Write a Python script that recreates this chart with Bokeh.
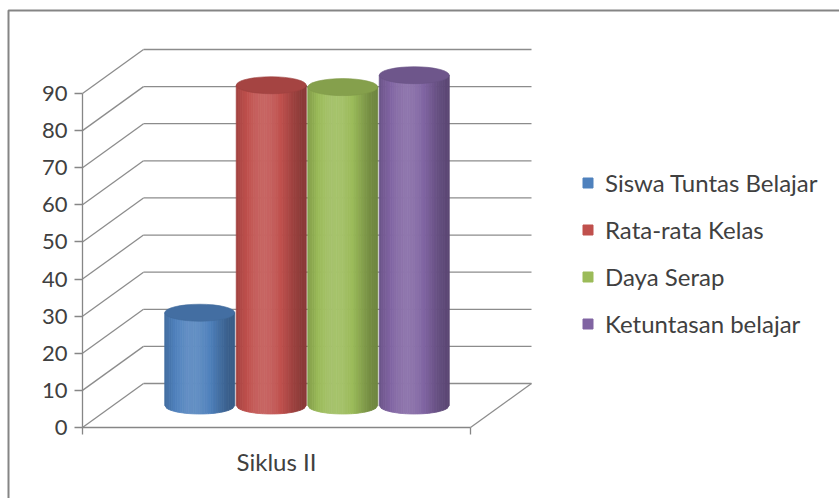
import numpy as np
from bokeh.plotting import figure
from bokeh.models import (LinearAxis, FixedTicker, Range1d, Legend, LegendItem,
                          ColumnDataSource)
from bokeh.embed import file_html
from bokeh.resources import INLINE

# ---------------- data ----------------
category = "Siklus II"
series = ["Siswa Tuntas Belajar", "Rata-rata Kelas", "Daya Serap", "Ketuntasan belajar"]
values = [25.0, 86.3, 85.8, 89.0]
colors = ["#4F81BD", "#C0504D", "#9BBB59", "#8064A2"]
y_ticks = [0, 10, 20, 30, 40, 50, 60, 70, 80, 90]

# ---------------- geometry (screen layout) ----------------
W, H = 839, 498
AX_X, CAT_END_X = 82, 470          # pixel x of value axis and end of category
Y0_PX, Y90_PX = 427, 93            # pixel y of 0 and 90
PPX = CAT_END_X - AX_X             # px per category unit
PPY = (Y0_PX - Y90_PX) / 90.0      # px per value unit
DX = 61 / PPX                      # depth offset (x)
DY = 44 / PPY                      # depth offset (y)
BW = 70 / PPX                      # cylinder diameter
SP = 71.5 / PPX                    # cylinder spacing
EH = 17 / PPY                      # ellipse height
FONT = "Lato"
TXT = "#404040"
GRID = "#8c8c8c"

p = figure(width=W, height=H, output_backend="svg", toolbar_location=None,
           x_axis_type=None, y_axis_type=None,
           x_range=Range1d(-AX_X / PPX, (W - AX_X) / PPX),
           y_range=Range1d(-(H - Y0_PX) / PPY, Y0_PX / PPY),
           min_border=0)
p.outline_line_color = None
p.background_fill_color = "white"
p.border_fill_color = "white"

# chart border (left and top)
bx = (8 - AX_X) / PPX
by = (Y0_PX - 10) / PPY
p.line(x=[bx, bx, (W - AX_X) / PPX], y=[-(H - Y0_PX) / PPY, by, by],
       line_color="#858585", line_width=2)

# back wall gridlines
p.segment(x0=[DX] * len(y_ticks), y0=[t + DY for t in y_ticks],
          x1=[1 + DX] * len(y_ticks), y1=[t + DY for t in y_ticks],
          line_color=GRID, line_width=1.3)
# side wall diagonals
p.segment(x0=[0] * len(y_ticks), y0=y_ticks,
          x1=[DX] * len(y_ticks), y1=[t + DY for t in y_ticks],
          line_color=GRID, line_width=1.3)
# floor right edge
p.segment(x0=[1], y0=[0], x1=[1 + DX], y1=[DY], line_color=GRID, line_width=1.3)


def shade(hexc, f):
    c = np.array([int(hexc[i:i + 2], 16) for i in (1, 3, 5)], dtype=float)
    if f <= 1:
        c = c * f
    else:
        c = c + (255 - c) * (f - 1)
    c = np.clip(c, 0, 255).astype(int)
    return "#%02x%02x%02x" % tuple(c)


def profile(u):
    return 0.72 + 0.40 * max(0.0, 1 - ((u + 0.2) / 1.2) ** 2) ** 2


N = 32
ue = np.linspace(-1, 1, N + 1)
legend_items = []
for i, (name, v, col) in enumerate(zip(series, values, colors)):
    cx = 0.5 + (i - 1.5) * SP + DX / 2
    yb = DY / 2
    yt = v + DY / 2
    xs, ys, fc = [], [], []
    for k in range(N):
        u0, u1 = ue[k], ue[k + 1]
        xa, xb = cx + u0 * BW / 2, cx + u1 * BW / 2
        ya = yb - EH / 2 * np.sqrt(max(0, 1 - u0 ** 2))
        yb2 = yb - EH / 2 * np.sqrt(max(0, 1 - u1 ** 2))
        xs.append([xa, xb, xb, xa])
        ys.append([ya, yb2, yt, yt])
        fc.append(shade(col, profile((u0 + u1) / 2)))
    src = ColumnDataSource(dict(xs=xs, ys=ys, fc=fc))
    p.patches(xs="xs", ys="ys", source=src, fill_color="fc", line_color="fc",
              line_width=0.8)
    p.ellipse(x=[cx], y=[yt], width=BW, height=EH,
              fill_color=shade(col, 0.86), line_color=shade(col, 0.82), line_width=0.6)
    # legend proxy (no visible point)
    r = p.scatter(x=[np.nan], y=[np.nan], marker="square", fill_color=col,
                  line_color=col)
    legend_items.append(LegendItem(label=name, renderers=[r]))

# value axis
yax = LinearAxis(fixed_location=0, bounds=(0, 90),
                 ticker=FixedTicker(ticks=y_ticks, minor_ticks=[]))
yax.axis_line_color = "#868686"
yax.axis_line_width = 1.3
yax.major_tick_line_color = "#868686"
yax.major_tick_line_width = 1.3
yax.major_tick_out = 8
yax.major_tick_in = 0
yax.major_label_standoff = 7
yax.major_label_text_font = FONT
yax.major_label_text_font_size = "22px"
yax.major_label_text_color = TXT
p.add_layout(yax, "left")

# category axis
xax = LinearAxis(fixed_location=0, bounds=(0, 1),
                 ticker=FixedTicker(ticks=[0.5], minor_ticks=[0, 1]),
                 major_label_overrides={0.5: category})
xax.axis_line_color = "#868686"
xax.axis_line_width = 1.3
xax.major_tick_out = 0
xax.major_tick_in = 0
xax.minor_tick_line_color = "#868686"
xax.minor_tick_line_width = 1.3
xax.minor_tick_out = 7
xax.minor_tick_in = 0
xax.major_label_standoff = 12
xax.major_label_text_font = FONT
xax.major_label_text_font_size = "24px"
xax.major_label_text_color = TXT
p.add_layout(xax, "below")

legend = Legend(items=legend_items, location=(575, 160),
                glyph_width=25, glyph_height=29, label_height=29,
                spacing=18, label_standoff=5, padding=0, margin=0,
                border_line_alpha=0, background_fill_alpha=0,
                label_text_font=FONT, label_text_font_size="24px",
                label_text_color=TXT)
p.add_layout(legend)

open("out.html", "w").write(file_html(p, INLINE))
